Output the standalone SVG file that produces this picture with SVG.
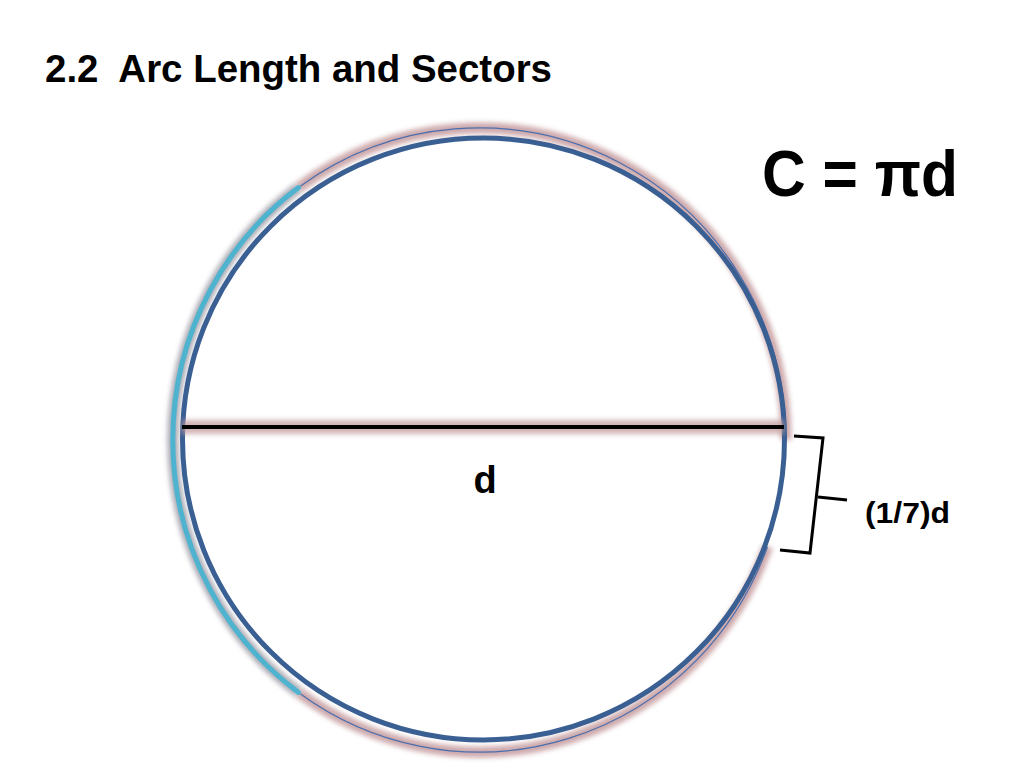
<svg xmlns="http://www.w3.org/2000/svg" width="1024" height="768" viewBox="0 0 1024 768">
  <defs>
    <filter id="blur" x="-20%" y="-20%" width="140%" height="140%">
      <feGaussianBlur stdDeviation="2.5"/>
    </filter>
    <filter id="blurL" filterUnits="userSpaceOnUse" x="160" y="400" width="650" height="60">
      <feGaussianBlur stdDeviation="2.5"/>
    </filter>
    <style>
      .txt { font-family: "Liberation Sans", Arial, sans-serif; font-weight: bold; fill: #000; }
      .glow { fill: none; stroke: #c49a9d; stroke-width: 11; opacity: 0.85; filter: url(#blur); }
      .outer { fill: none; stroke: #4a6fae; stroke-width: 1.2; }
      .cyan { fill: none; stroke: #4db3cf; stroke-width: 5; stroke-linecap: round; }
      .main { fill: none; stroke: #3a5f93; stroke-width: 5; }
      .brk { fill: none; stroke: #000; stroke-width: 3; stroke-linejoin: miter; }
    </style>
  </defs>
  <rect width="1024" height="768" fill="#fff"/>

  <g id="title">
    <text class="txt" x="45" y="82" font-size="39" textLength="507" lengthAdjust="spacingAndGlyphs" xml:space="preserve">2.2  Arc Length and Sectors</text>
  </g>

  <g id="formula">
    <text class="txt" x="762" y="196" font-size="64" textLength="196" lengthAdjust="spacingAndGlyphs">C = πd</text>
  </g>

  <g id="circumference">
    <path class="glow" d="M298.5,187.6 A307,312 0 0 1 786,440"/>
    <path class="glow" d="M767.5,546.7 A307,312 0 0 1 298.5,692.4"/>
    <path class="glow" d="M298.5,692.4 A305,312 0 0 1 298.5,187.6" style="stroke:#9c9ca8"/>
    <path class="outer" d="M298.5,187.6 A307,312 0 0 1 786,440"/>
    <path class="outer" d="M767.5,546.7 A307,312 0 0 1 298.5,692.4"/>
    <path class="cyan" d="M298.5,692.4 A305,312 0 0 1 298.5,187.6"/>
  </g>

  <g id="circle">
    <circle class="main" cx="483.5" cy="439" r="301"/>
  </g>

  <g id="diameter">
    <rect x="182" y="420" width="602" height="14" fill="#c29a9c" opacity="0.75" filter="url(#blurL)"/>
    <line x1="182" y1="427" x2="784" y2="427" stroke="#000" stroke-width="4"/>
    <text class="txt" x="485" y="493" font-size="38" text-anchor="middle">d</text>
  </g>

  <g id="connectors">
    <polyline class="brk" points="794,436 823,438 810,553 780,550"/>
    <line class="brk" x1="818" y1="497" x2="847" y2="500"/>
  </g>

  <g id="arc-label">
    <text class="txt" x="865" y="523" font-size="29" textLength="85" lengthAdjust="spacingAndGlyphs">(1/7)d</text>
  </g>
</svg>
